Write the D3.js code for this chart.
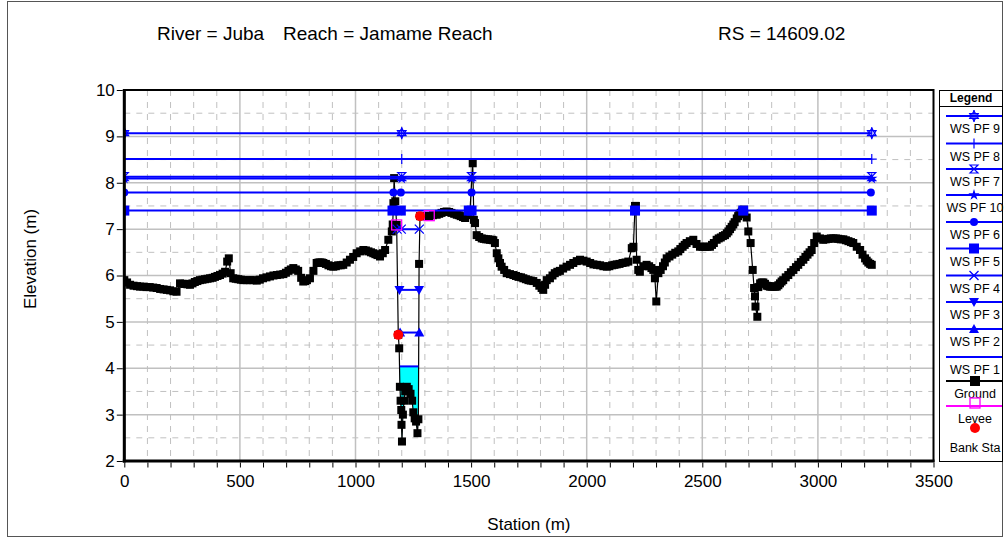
<!DOCTYPE html>
<html><head><meta charset="utf-8">
<script src="https://cdn.jsdelivr.net/npm/d3@7"></script>
<style>
html,body{margin:0;padding:0;background:#fff;}
svg{display:block;font-family:"Liberation Sans",Arial,sans-serif;}
</style></head>
<body>
<svg id="chart" width="1006" height="539"></svg>
<script>
// ---------- DATA ----------
const groundStation = [0,12,25,40,55,68,82,96,110,125,140,155,170,184,198,212,226,241,252,262,273,284,295,305,316,327,338,349,360,371,382,392,403,414,425,436,445,452,460,471,482,493,504,515,530,544,558,573,586,600,615,630,645,660,674,688,699,710,720,731,742,752,765,774,782,790,803,818,832,840,847,854,861,872,883,894,904,915,925,936,947,962,976,990,1005,1020,1034,1045,1056,1067,1077,1086,1095,1106,1118,1128,1142,1157,1161,1164,1167,1172,1178,1185,1189,1192,1195,1198,1199,1201,1205,1210,1215,1222,1230,1238,1245,1250,1256,1262,1268,1272,1275,1279,1290,1300,1310,1319,1335,1351,1362,1372,1383,1394,1405,1415,1427,1438,1447,1455,1465,1474,1485,1495,1507,1512,1517,1524,1535,1546,1555,1565,1574,1582,1590,1596,1603,1611,1618,1625,1632,1643,1654,1668,1683,1694,1705,1716,1726,1737,1748,1758,1769,1784,1795,1805,1812,1820,1827,1841,1852,1862,1873,1884,1898,1913,1928,1942,1957,1971,1986,2000,2015,2029,2044,2058,2072,2087,2098,2110,2120,2130,2142,2155,2168,2180,2195,2202,2209,2213,2216,2223,2230,2245,2259,2270,2280,2288,2295,2301,2310,2320,2330,2338,2346,2358,2370,2383,2396,2405,2415,2424,2432,2446,2461,2475,2490,2501,2512,2522,2533,2542,2550,2562,2571,2580,2589,2598,2606,2613,2620,2627,2634,2640,2649,2655,2660,2666,2671,2680,2692,2699,2709,2718,2724,2728,2730,2738,2742,2750,2757,2764,2771,2778,2786,2793,2800,2808,2815,2822,2829,2836,2843,2850,2861,2872,2883,2894,2905,2915,2926,2937,2946,2955,2964,2973,2984,2995,3009,3023,3034,3045,3056,3067,3078,3088,3099,3110,3121,3132,3143,3153,3168,3182,3193,3204,3211,3218,3226,3233];
const groundElev = [5.90,5.85,5.80,5.78,5.77,5.76,5.76,5.75,5.75,5.74,5.73,5.71,5.70,5.69,5.68,5.66,5.65,5.83,5.82,5.82,5.81,5.80,5.83,5.86,5.88,5.90,5.91,5.92,5.93,5.94,5.95,5.97,5.99,6.01,6.04,6.08,6.30,6.37,6.05,5.94,5.93,5.92,5.91,5.90,5.90,5.90,5.90,5.89,5.91,5.94,5.96,5.98,6.00,6.01,6.02,6.03,6.06,6.10,6.13,6.16,6.13,6.10,5.95,5.87,5.88,5.90,5.94,6.10,6.27,6.28,6.28,6.28,6.27,6.25,6.22,6.20,6.19,6.20,6.22,6.22,6.23,6.28,6.34,6.40,6.48,6.52,6.55,6.54,6.52,6.50,6.48,6.46,6.44,6.41,6.48,6.55,6.77,6.95,7.10,7.56,8.10,7.60,7.09,4.72,4.43,3.60,3.30,3.10,2.78,2.42,3.00,3.30,3.50,3.60,3.55,3.45,3.30,3.05,2.92,2.85,2.60,2.90,6.25,7.28,7.28,7.28,7.28,7.28,7.30,7.31,7.33,7.35,7.37,7.38,7.37,7.35,7.33,7.31,7.30,7.28,7.26,7.24,7.30,7.38,8.42,7.20,7.13,6.87,6.83,6.80,6.79,6.78,6.78,6.77,6.77,6.76,6.70,6.48,6.37,6.27,6.19,6.12,6.05,6.03,6.01,5.99,5.97,5.96,5.94,5.92,5.90,5.89,5.88,5.84,5.78,5.73,5.69,5.80,5.90,5.94,6.00,6.05,6.08,6.10,6.15,6.19,6.23,6.27,6.31,6.34,6.32,6.30,6.27,6.24,6.23,6.22,6.20,6.19,6.20,6.22,6.23,6.24,6.25,6.27,6.28,6.30,6.59,6.62,7.50,7.50,6.34,6.12,6.08,6.20,6.23,6.20,6.16,6.12,5.94,5.44,6.05,6.12,6.20,6.28,6.37,6.41,6.45,6.49,6.52,6.57,6.62,6.66,6.70,6.74,6.77,6.68,6.62,6.62,6.62,6.62,6.62,6.66,6.70,6.77,6.80,6.82,6.85,6.87,6.91,6.95,7.00,7.05,7.10,7.15,7.23,7.28,7.32,7.35,7.38,7.42,7.25,6.95,6.70,6.12,5.73,5.55,5.33,5.11,5.75,5.83,5.85,5.85,5.82,5.78,5.77,5.76,5.76,5.76,5.76,5.76,5.79,5.83,5.87,5.90,5.96,6.01,6.07,6.12,6.18,6.23,6.29,6.34,6.40,6.45,6.50,6.55,6.70,6.84,6.80,6.77,6.78,6.79,6.80,6.80,6.80,6.79,6.78,6.78,6.76,6.74,6.72,6.70,6.62,6.55,6.45,6.37,6.32,6.28,6.25,6.23];

const wsNames   = ["WS PF 9","WS PF 8","WS PF 7","WS PF 10","WS PF 6","WS PF 5","WS PF 4","WS PF 3","WS PF 2","WS PF 1"];
const wsSymbols = ["hexstar","plus","hourglass","star","circle","square","cross","triDown","triUp","none"];
const wsElev    = [9.07, 8.51, 8.13, 8.09, 7.79, 7.40, 7.00, 5.69, 4.77, 4.04];
const wsStart   = [0, 0, 0, 0, 0, 0, 1175, 1188, 1190, 1192];
const wsEnd     = [3233, 3233, 3233, 3233, 3229, 3233, 1276, 1275, 1276, 1272];
const wsMarkers = [
  [0,1200,3233],
  [0,1200,3233],
  [0,1200,1502,3233],
  [0,1200,1502,3233],
  [0,1164,1196,1502,3229],
  [0,1160,1196,1490,1502,2209,2677,3233],
  [1180,1198,1276],
  [1190,1275],
  [1193,1276],
  []
];
const leveeStation = [1178, 1319];
const leveeElev    = [7.09, 7.29];
const bankStation  = [1185, 1279];
const bankElev     = [4.72, 7.28];

const xTicks = [0,500,1000,1500,2000,2500,3000,3500];
const yTicks = [2,3,4,5,6,7,8,9,10];
const titleParts = ["River = Juba", "Reach = Jamame Reach", "RS = 14609.02"];
const xTitle = "Station (m)";
const yTitle = "Elevation (m)";

// ---------- LAYOUT ----------
const svg = d3.select("#chart");
const L = 124.3, R = 933.5, T = 90, B = 461;
const x = d3.scaleLinear().domain([0,3500]).range([L,R]);
const y = d3.scaleLinear().domain([2,10]).range([B,T]);
const BLUE = "#0000FF", GRID = "#c0c0c0";

// outer frame
svg.append("rect").attr("x",7.5).attr("y",1.5).attr("width",995).attr("height",535)
  .attr("fill","none").attr("stroke","#555").attr("stroke-width",1);

// title
const titleX = [157, 283, 718];
titleParts.forEach((t,i)=>{
  svg.append("text").attr("x",titleX[i]).attr("y",40).attr("font-size",19).attr("fill","#000").text(t);
});

// grid
const g = svg.append("g");
const minorX = d3.range(100,3500,100).filter(v=>v%500!==0);
const majorX = d3.range(500,3500,500);
const minorY = d3.range(2.5,10,1);
const majorY = d3.range(3,10,1);
g.selectAll(".mx").data(minorX).join("line").attr("x1",d=>x(d)).attr("x2",d=>x(d)).attr("y1",T).attr("y2",B)
  .attr("stroke",GRID).attr("stroke-dasharray","6,6").attr("stroke-width",1);
g.selectAll(".my").data(minorY).join("line").attr("y1",d=>y(d)).attr("y2",d=>y(d)).attr("x1",L).attr("x2",R)
  .attr("stroke",GRID).attr("stroke-dasharray","6,6").attr("stroke-width",1);
g.selectAll(".Mx").data(majorX).join("line").attr("x1",d=>x(d)).attr("x2",d=>x(d)).attr("y1",T).attr("y2",B)
  .attr("stroke",GRID).attr("stroke-width",1.5);
g.selectAll(".My").data(majorY).join("line").attr("y1",d=>y(d)).attr("y2",d=>y(d)).attr("x1",L).attr("x2",R)
  .attr("stroke",GRID).attr("stroke-width",1.5);

// clip
svg.append("clipPath").attr("id","plotclip").append("rect").attr("x",L).attr("y",T-6).attr("width",R-L).attr("height",B-T+6);

const ground = groundStation.map((s,i)=>[s,groundElev[i]]);

// cyan fill for lowest WS: region above ground clipped to WS band
const aboveGround = d3.area().x(d=>x(d[0])).y0(y(10)).y1(d=>y(d[1]));
svg.append("clipPath").attr("id","aboveground").append("path").attr("d",aboveGround(ground));
const p1 = wsNames.length-1;
svg.append("rect").attr("clip-path","url(#aboveground)")
  .attr("x",x(wsStart[p1]-10)).attr("width",x(wsEnd[p1]+10)-x(wsStart[p1]-10))
  .attr("y",y(wsElev[p1])).attr("height",y(2)-y(wsElev[p1]))
  .attr("fill","#00FFFF");

const plot = svg.append("g").attr("clip-path","url(#plotclip)");

// ground line + markers
plot.append("path").attr("d",d3.line().x(d=>x(d[0])).y(d=>y(d[1]))(ground))
  .attr("fill","none").attr("stroke","#000").attr("stroke-width",1.2);
plot.selectAll(".gm").data(ground).join("rect")
  .attr("x",d=>x(d[0])-4).attr("y",d=>y(d[1])-4).attr("width",8).attr("height",8).attr("fill","#000");

// marker drawing
function drawMarker(sel, type, cx, cy, color){
  const gg = sel.append("g").attr("transform",`translate(${cx},${cy})`);
  switch(type){
    case "hexstar":
      gg.append("path").attr("d","M0,-5 L4.3,2.5 L-4.3,2.5 Z M0,5 L4.3,-2.5 L-4.3,-2.5 Z").attr("fill","none").attr("stroke",color).attr("stroke-width",1.2);
      gg.append("path").attr("d","M0,-6 L0,6").attr("stroke",color).attr("stroke-width",1.2); break;
    case "plus":
      gg.append("path").attr("d","M0,-5 L0,5 M-5,0 L5,0").attr("stroke",color).attr("stroke-width",1.2); break;
    case "hourglass":
      gg.append("path").attr("d","M-4,-4 L4,-4 L-4,4 L4,4 Z").attr("fill","none").attr("stroke",color).attr("stroke-width",1.2); break;
    case "star":
      gg.append("path").attr("d",d3.symbol(d3.symbolStar,40)()).attr("fill",color); break;
    case "circle":
      gg.append("circle").attr("r",4).attr("fill",color); break;
    case "square":
      gg.append("rect").attr("x",-5).attr("y",-5).attr("width",10).attr("height",10).attr("fill",color); break;
    case "cross":
      gg.append("path").attr("d","M-4.5,-4.5 L4.5,4.5 M-4.5,4.5 L4.5,-4.5").attr("stroke",color).attr("stroke-width",1.3); break;
    case "triDown":
      gg.append("path").attr("d","M-5,-4 L5,-4 L0,5 Z").attr("fill",color); break;
    case "triUp":
      gg.append("path").attr("d","M-5,4 L5,4 L0,-5 Z").attr("fill",color); break;
    case "openSquare":
      gg.append("rect").attr("x",-5).attr("y",-5).attr("width",10).attr("height",10).attr("fill","none").attr("stroke",color).attr("stroke-width",1.3); break;
    case "dot":
      gg.append("circle").attr("r",5).attr("fill",color); break;
  }
}

// WS lines
wsNames.forEach((n,i)=>{
  plot.append("line").attr("x1",x(wsStart[i])).attr("x2",x(wsEnd[i])).attr("y1",y(wsElev[i])).attr("y2",y(wsElev[i]))
    .attr("stroke",BLUE).attr("stroke-width",2);
});
wsNames.forEach((n,i)=>{
  wsMarkers[i].forEach(s=>drawMarker(plot, wsSymbols[i], x(s), y(wsElev[i]), BLUE));
});

// levee
leveeStation.forEach((s,i)=>drawMarker(plot,"openSquare",x(s),y(leveeElev[i]),"#FF00FF"));
// bank stations
bankStation.forEach((s,i)=>drawMarker(plot,"dot",x(s),y(bankElev[i]),"#FF0000"));

// plot border
svg.append("rect").attr("x",L).attr("y",T).attr("width",R-L).attr("height",B-T)
  .attr("fill","none").attr("stroke","#000").attr("stroke-width",2);
svg.append("line").attr("x1",L).attr("x2",L).attr("y1",T-1).attr("y2",B+1.5).attr("stroke","#000").attr("stroke-width",3);
svg.append("line").attr("x1",L-1.5).attr("x2",R+1).attr("y1",B).attr("y2",B).attr("stroke","#000").attr("stroke-width",3);

// axes
const xAxis = d3.axisBottom(x).tickValues(d3.range(0,3501,100)).tickSize(5).tickSizeOuter(0)
  .tickFormat(d=> xTicks.includes(d) ? d : "");
const gx = svg.append("g").attr("transform",`translate(0,${B+1.5})`).call(xAxis);
gx.select(".domain").remove();
gx.selectAll("line").attr("stroke","#000");
gx.selectAll("text").attr("font-size",17).attr("font-family","Liberation Sans, Arial").attr("fill","#000").attr("dy","0.95em");

const yAxis = d3.axisLeft(y).tickValues(yTicks).tickSize(6).tickSizeOuter(0);
const gy = svg.append("g").attr("transform",`translate(${L-1.5},0)`).call(yAxis);
gy.select(".domain").remove();
gy.selectAll("line").attr("stroke","#000");
gy.selectAll("text").attr("font-size",17).attr("font-family","Liberation Sans, Arial").attr("fill","#000").attr("x",-8);

svg.append("text").attr("x",(L+R)/2).attr("y",530).attr("text-anchor","middle").attr("font-size",17).text(xTitle);
svg.append("text").attr("transform","translate(36,259) rotate(-90)").attr("text-anchor","middle").attr("font-size",17).text(yTitle);

// legend
const lg = svg.append("g");
lg.append("rect").attr("x",939.5).attr("y",90.5).attr("width",63).attr("height",371).attr("fill","#fff").attr("stroke","#000").attr("stroke-width",1);
lg.append("text").attr("x",971).attr("y",102).attr("text-anchor","middle").attr("font-size",12).attr("font-weight","bold").text("Legend");
lg.append("line").attr("x1",939.5).attr("x2",1002.5).attr("y1",106.5).attr("y2",106.5).attr("stroke","#000");
const legLineY = [116,143.5,169,195,222,248.5,275.5,302,329,357];
wsNames.forEach((n,i)=>{
  const ly = legLineY[i];
  lg.append("line").attr("x1",946).attr("x2",1002).attr("y1",ly).attr("y2",ly).attr("stroke",BLUE).attr("stroke-width",2);
  if (wsSymbols[i]!=="none") drawMarker(lg, wsSymbols[i], 974, ly, BLUE);
  lg.append("text").attr("x",975).attr("y",ly+17).attr("text-anchor","middle").attr("font-size",12.5).text(n);
});
lg.append("line").attr("x1",946).attr("x2",1002).attr("y1",381).attr("y2",381).attr("stroke","#000").attr("stroke-width",2);
drawMarker(lg,"square",975,381,"#000");
lg.append("text").attr("x",975).attr("y",398).attr("text-anchor","middle").attr("font-size",12.5).text("Ground");
lg.append("line").attr("x1",946).attr("x2",1002).attr("y1",406).attr("y2",406).attr("stroke","#FF00FF").attr("stroke-width",2);
drawMarker(lg,"openSquare",975,403,"#FF00FF");
lg.append("text").attr("x",975).attr("y",423).attr("text-anchor","middle").attr("font-size",12.5).text("Levee");
drawMarker(lg,"dot",975,428,"#FF0000");
lg.append("text").attr("x",975).attr("y",452).attr("text-anchor","middle").attr("font-size",12.5).text("Bank Sta");
</script>
</body></html>
